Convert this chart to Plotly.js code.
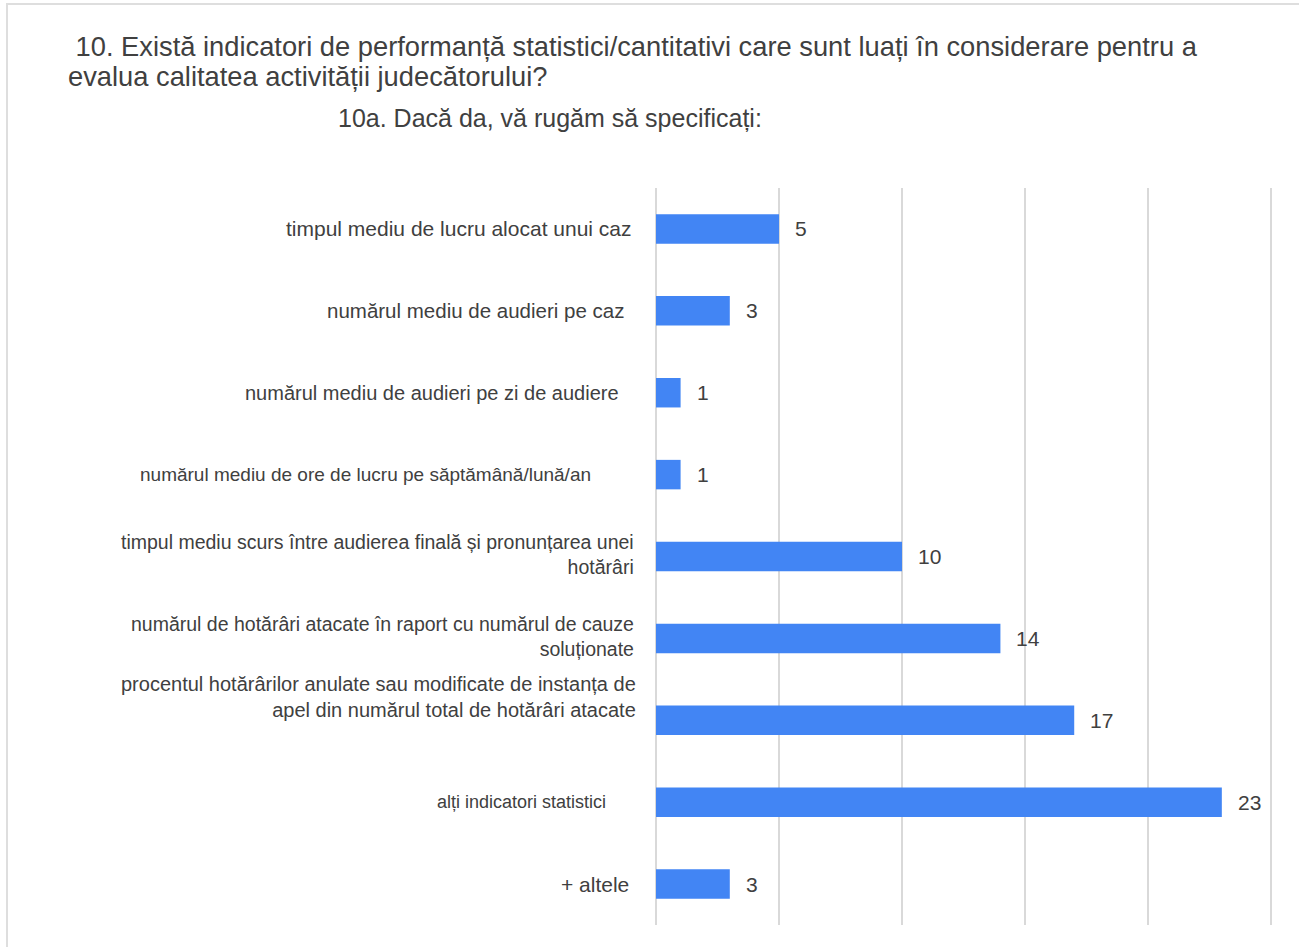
<!DOCTYPE html>
<html>
<head>
<meta charset="utf-8">
<script src="https://cdn.plot.ly/plotly-3.0.1.min.js"></script>
<style>
  html, body { margin: 0; padding: 0; background: #fff; }
  #wrap { position: relative; width: 1299px; height: 947px; overflow: hidden; }
  #chart { position: absolute; left: 0; top: 0; width: 1299px; height: 947px; }
  #frame { position: absolute; left: 6px; top: 3px; width: 1400px; height: 1100px;
           border-left: 2px solid #dedede; border-top: 2px solid #dedede; pointer-events: none; }
</style>
</head>
<body>
<div id="wrap">
  <div id="chart"></div>
  <div id="frame"></div>
</div>
<script>
// ---- data ----
const categories = [
  "timpul mediu de lucru alocat unui caz",
  "numărul mediu de audieri pe caz",
  "numărul mediu de audieri pe zi de audiere",
  "numărul mediu de ore de lucru pe săptămână/lună/an",
  "timpul mediu scurs între audierea finală și pronunțarea unei<br>hotărâri",
  "numărul de hotărâri atacate în raport cu numărul de cauze<br>soluționate",
  "procentul hotărârilor anulate sau modificate de instanța de<br>apel din numărul total de hotărâri atacate",
  "alți indicatori statistici",
  "+ altele"
];
const values = [5, 3, 1, 1, 10, 14, 17, 23, 3];
const titleLine1 = "&nbsp;10. Există indicatori de performanță statistici/cantitativi care sunt luați în considerare pentru a";
const titleLine2 = "evalua calitatea activității judecătorului?";
const subtitle = "10a. Dacă da, vă rugăm să specificați:";

// ---- layout helpers (style only) ----
const W = 1299, H = 947;
const M = { l: 656, r: 26, t: 188, b: 22 };
const PW = W - M.l - M.r, PH = H - M.t - M.b;
const px = x => (x - M.l) / PW;
const py = y => (H - M.b - y) / PH;
const labelShift = [-22, -30, -35, -63, -20, -20, -18, -48, -25];
const labelYShift = [0, 0, 0, 0, 2, 2, 23, 0, 0];
const labelSize = [21, 20.5, 20, 19, 19.5, 19.5, 20, 18, 21];
const FONT = "Liberation Sans, Arial, sans-serif";
const TXT = "#404040";

const annotations = [];
annotations.push({ xref: "paper", yref: "paper", x: px(66), y: py(46), xanchor: "left", yanchor: "middle",
  text: titleLine1, showarrow: false, font: { family: FONT, size: 27.3, color: TXT } });
annotations.push({ xref: "paper", yref: "paper", x: px(66), y: py(77), xanchor: "left", yanchor: "middle",
  text: titleLine2, showarrow: false, font: { family: FONT, size: 27.3, color: TXT } });
annotations.push({ xref: "paper", yref: "paper", x: px(550), y: py(118), xanchor: "center", yanchor: "middle",
  text: subtitle, showarrow: false, font: { family: FONT, size: 25, color: TXT } });

categories.forEach((c, i) => {
  annotations.push({ xref: "x", yref: "y", x: 0, y: c, xanchor: "right", yanchor: "middle",
    xshift: labelShift[i], yshift: labelYShift[i], align: "right",
    text: c, showarrow: false, font: { family: FONT, size: labelSize[i], color: TXT } });
  annotations.push({ xref: "x", yref: "y", x: values[i], y: c, xanchor: "left", yanchor: "middle",
    xshift: 14, text: String(values[i]), showarrow: false, font: { family: FONT, size: 21, color: TXT } });
});

const trace = {
  type: "bar", orientation: "h",
  x: values, y: categories,
  marker: { color: "#4285F4" },
  hoverinfo: "none"
};

const layout = {
  width: W, height: H,
  margin: M,
  paper_bgcolor: "#fff", plot_bgcolor: "#fff",
  showlegend: false,
  bargap: 0.64,
  font: { family: FONT, color: TXT },
  xaxis: { range: [0, 25.08], dtick: 5, tick0: 0, showticklabels: false, ticks: "",
           showgrid: true, gridcolor: "#d9d9d9", gridwidth: 2,
           zeroline: true, zerolinecolor: "#d9d9d9", zerolinewidth: 2, showline: false, fixedrange: true },
  yaxis: { type: "category", autorange: "reversed", showticklabels: false, ticks: "",
           showgrid: false, zeroline: false, showline: false, fixedrange: true },
  annotations: annotations
};

Plotly.newPlot("chart", [trace], layout, { displayModeBar: false, staticPlot: true });
</script>
</body>
</html>
